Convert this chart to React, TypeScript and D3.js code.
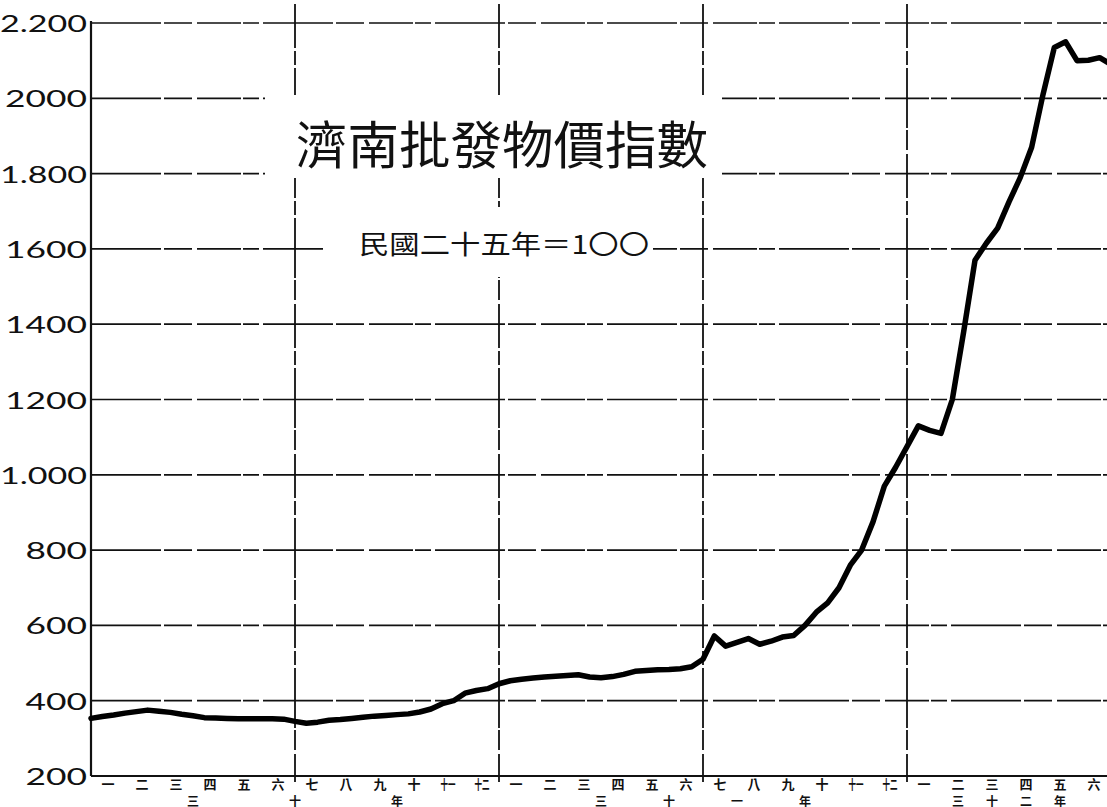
import React from 'react';
import * as d3 from 'd3';

// 濟南批發物價指數, one value per 旬 (ten-day period), 民國三十年一月 → 三十二年六月
const index = [
  353, 358, 362, 367, 371, 375, 372, 369, 364, 360, 355, 354,
  353, 352, 352, 352, 352, 351, 345, 340, 343, 348, 350, 353,
  356, 359, 361, 363, 365, 370, 378, 392, 400, 420, 427, 432,
  445, 453, 457, 460, 463, 465, 467, 469, 463, 461, 464, 470,
  478, 480, 482, 483, 485, 490, 510, 572, 545, 555, 565, 550,
  558, 569, 573, 600, 635, 660, 700, 760, 800, 875, 970, 1020,
  1075, 1130, 1118, 1110, 1200, 1380, 1570, 1615, 1655, 1725, 1790, 1870,
  2010, 2135, 2150, 2100, 2101, 2108, 2090,
];

const months = [
  '一', '二', '三', '四', '五', '六', '七', '八', '九', '十', '十一', '十二',
  '一', '二', '三', '四', '五', '六', '七', '八', '九', '十', '十一', '十二',
  '一', '二', '三', '四', '五', '六',
];

// year captions under the month row (position in months from start)
const yearChars = ['三', '十', '年', '三', '十', '一', '年', '三', '十', '二', '年'];
const yearAt = [3, 6, 9, 15, 17, 19, 21, 25.5, 26.5, 27.5, 28.5];

const yTicks = [200, 400, 600, 800, 1000, 1200, 1400, 1600, 1800, 2000, 2200];
const yTickText = ['200', '400', '600', '800', '1.000', '1200', '1400', '1600', '1.800', '2000', '2.200'];

const title = '濟南批發物價指數';
const subtitle = '民國二十五年＝1〇〇';

const W = 1107;
const H = 807;

export default function App() {
  const x = d3.scaleLinear().domain([0, 30]).range([91, 1111]);
  const y = d3.scaleLinear().domain([200, 2200]).range([776, 23]);

  const line = d3
    .line<number>()
    .x((_, i) => x(i / 3))
    .y((d) => y(d));

  const gridV = d3.range(6, 30, 6);

  return (
    <svg
      width={W}
      height={H}
      style={{ position: 'absolute', left: 0, top: 0, background: '#fff' }}
    >
      <rect width={W} height={H} fill="#fff" />

      {/* horizontal grid */}
      {yTicks.slice(1).map((t) => (
        <line
          key={'h' + t}
          x1={x(0)}
          x2={W}
          y1={y(t)}
          y2={y(t)}
          stroke="#111"
          strokeWidth={1.7}
          strokeDasharray="70,3,28,5,44,2,16,4"
        />
      ))}

      {/* vertical grid, every six months */}
      {gridV.map((m) => (
        <line
          key={'v' + m}
          x1={x(m)}
          x2={x(m)}
          y1={4}
          y2={y(200) + 6}
          stroke="#111"
          strokeWidth={1.8}
          strokeDasharray="44,3,14,3,60,2,20,4"
        />
      ))}

      {/* white boxes behind the title texts */}
      <rect x={265} y={95} width={457} height={83} fill="#fff" />
      <rect x={323} y={207} width={330} height={70} fill="#fff" />

      {/* axes */}
      <line x1={x(0)} x2={x(0)} y1={y(2200) - 2} y2={y(200)} stroke="#111" strokeWidth={2.2} />
      <line x1={x(0)} x2={W} y1={y(200)} y2={y(200)} stroke="#111" strokeWidth={2.2} />

      {/* y labels */}
      {yTicks.map((t, i) => {
        const s = yTickText[i];
        const digits = s.replace(/\./g, '').length;
        const dots = s.length - digits;
        return (
          <text
            key={'yl' + t}
            x={87}
            y={y(t)}
            textAnchor="end"
            dominantBaseline="central"
            fontFamily="Lato"
            fontSize={23}
            fill="#111"
            textLength={digits * 20.5 + dots * 5}
            lengthAdjust="spacingAndGlyphs"
          >
            {s}
          </text>
        );
      })}

      {/* month labels */}
      {months.map((m, i) => (
        <text
          key={'m' + i}
          x={x(i + 0.5)}
          y={783}
          textAnchor="middle"
          dominantBaseline="central"
          fontFamily="Noto Sans CJK TC"
          fontWeight={700}
          fontSize={13}
          fill="#111"
          {...(m.length > 1 ? { textLength: 15, lengthAdjust: 'spacingAndGlyphs' } : {})}
        >
          {m}
        </text>
      ))}

      {/* year labels */}
      {yearChars.map((c, i) => (
        <text
          key={'yc' + i}
          x={x(yearAt[i])}
          y={800}
          textAnchor="middle"
          dominantBaseline="central"
          fontFamily="Noto Sans CJK TC"
          fontWeight={700}
          fontSize={12}
          fill="#111"
        >
          {c}
        </text>
      ))}

      {/* titles */}
      <text
        x={296}
        y={164}
        fontFamily="Noto Sans CJK TC"
        fontWeight={400}
        fontSize={51}
        fill="#111"
        textLength={412}
        lengthAdjust="spacingAndGlyphs"
      >
        {title}
      </text>
      <text
        x={359}
        y={254}
        fontFamily="Noto Sans CJK TC"
        fontWeight={400}
        fontSize={26}
        fill="#111"
        textLength={290}
        lengthAdjust="spacingAndGlyphs"
      >
        {subtitle}
      </text>

      {/* index line */}
      <path
        d={line(index) ?? ''}
        fill="none"
        stroke="#000"
        strokeWidth={5.5}
        strokeLinejoin="round"
        strokeLinecap="round"
      />
    </svg>
  );
}
